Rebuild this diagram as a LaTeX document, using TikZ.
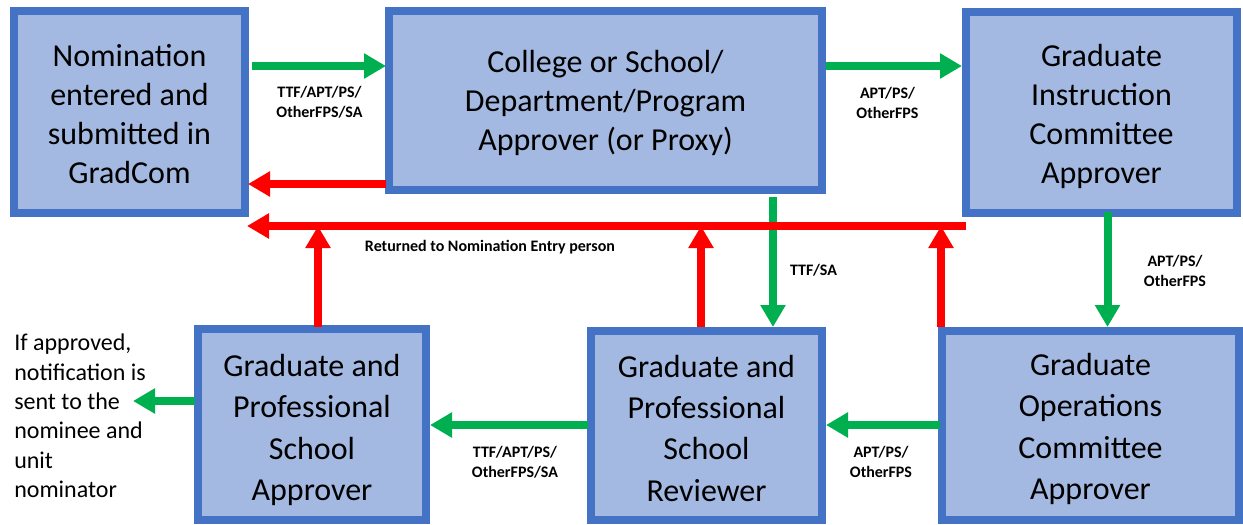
\documentclass[tikz,border=0pt]{standalone}
\usepackage{fontspec}
\setmainfont{Carlito}
\usetikzlibrary{arrows.meta}
\definecolor{boxfill}{RGB}{163,185,225}
\definecolor{boxline}{RGB}{68,114,196}
\definecolor{gr}{RGB}{0,176,80}
\definecolor{rd}{RGB}{255,0,0}
\tikzset{
  box/.style={draw=boxline, fill=boxfill, line width=6pt, inner sep=0pt, outer sep=0pt},
  boxtxt/.style={align=center, inner sep=0pt, font=\fontsize{24pt}{29.25pt}\selectfont},
  boxtxtlow/.style={boxtxt, font=\fontsize{24pt}{31pt}\selectfont},
  garrow/.style={draw=gr, line width=6pt, -{Triangle[width=18pt,length=16.5pt]}},
  rarrow/.style={draw=rd, line width=6pt, -{Triangle[width=18pt,length=16.5pt]}},
  lbl/.style={font=\fontsize{12pt}{15pt}\selectfont\bfseries, align=center, inner sep=0pt},
  note/.style={font=\fontsize{18pt}{22pt}\selectfont, align=left, inner sep=0pt, anchor=west}
}
\begin{document}
\begin{tikzpicture}[x=0.75pt,y=-0.75pt]
\useasboundingbox (0,0) rectangle (1243,525);
% boxes
\node[box, minimum width=173.25pt, minimum height=151.5pt] (b1) at (129.5,112) {};
\node[box, minimum width=324.75pt, minimum height=134.25pt] (b2) at (605.5,100.5) {};
\node[box, minimum width=203.25pt, minimum height=150.75pt] (b3) at (1101.5,112.5) {};
\node[box, minimum width=171pt, minimum height=143.25pt] (b4) at (312,424.5) {};
\node[box, minimum width=173.25pt, minimum height=141.75pt] (b5) at (706.5,425.5) {};
\node[box, minimum width=222.75pt, minimum height=141.75pt] (b6) at (1090.5,425.5) {};
% box texts
\node[boxtxt] (t1) at ([yshift=-1.5pt]b1.center) {Nomination\\entered and\\submitted in\\GradCom};
\node[boxtxt] (t2) at ([yshift=-1.5pt]b2.center) {College or School/\\Department/Program\\Approver (or Proxy)};
\node[boxtxt] (t3) at ([yshift=-2.6pt]b3.center) {Graduate\\Instruction\\Committee\\Approver};
\node[boxtxtlow] (t4) at ([yshift=-4.1pt]b4.center) {Graduate and\\Professional\\School\\Approver};
\node[boxtxtlow] (t5) at ([yshift=-1.9pt]b5.center) {Graduate and\\Professional\\School\\Reviewer};
\node[boxtxtlow] (t6) at ([yshift=-2.6pt]b6.center) {Graduate\\Operations\\Committee\\Approver};
% note
\node[note] (nt) at (14,416)
  {If approved,\\notification is\\sent to the\\nominee and\\unit\\nominator};
\coordinate (ntend) at (133,401);
% green arrows
\draw[garrow] ([shift={(7,-46)}]b1.east) -- ([shift={(-3,-34.5)}]b2.west);
\draw[garrow] ([shift={(4,-34.5)}]b2.east) -- ([shift={(-4,-46.5)}]b3.west);
\draw[garrow] ([shift={(-49,7)}]b2.south east) -- ([shift={(-49,-4)}]b5.north east);
\draw[garrow] ([shift={(6,-1)}]b3.south) -- ([shift={(17,-4)}]b6.north);
\draw[garrow] ([shift={(-2,-0.5)}]b6.west) -- ([shift={(4,-0.5)}]b5.east);
\draw[garrow] ([shift={(-3,-0.5)}]b5.west) -- ([shift={(4,0.5)}]b4.east);
\draw[garrow] ([shift={(-3,-23.5)}]b4.west) -- (ntend);
% red arrows
\draw[rarrow] ([shift={(-3,83.5)}]b2.west) -- ([shift={(3,72)}]b1.east);
\draw[rarrow] ([shift={(0,13)}]b3.south west) -- ([shift={(2,13)}]b1.south east);
\draw[rarrow] ([shift={(6,-2)}]b4.north) -- ([shift={(6,-103)}]b4.north);
\draw[rarrow] ([shift={(-5.5,-4)}]b5.north) -- ([shift={(-5.5,-105)}]b5.north);
\draw[rarrow] ([shift={(-1,-4)}]b6.north west) -- ([shift={(-1,-105)}]b6.north west);
% labels
\node[lbl] (l1) at (319.5,102) {TTF/APT/PS/\\OtherFPS/SA};
\node[lbl] (l2) at (887.5,102.5) {APT/PS/\\OtherFPS};
\node[lbl] (l3) at (490,247) {Returned to Nomination Entry person};
\node[lbl] (l4) at (813.5,270) {TTF/SA};
\node[lbl] (l5) at (1175,271) {APT/PS/\\OtherFPS};
\node[lbl] (l6) at (881,462) {APT/PS/\\OtherFPS};
\node[lbl] (l7) at (515,462) {TTF/APT/PS/\\OtherFPS/SA};
\end{tikzpicture}
\end{document}
